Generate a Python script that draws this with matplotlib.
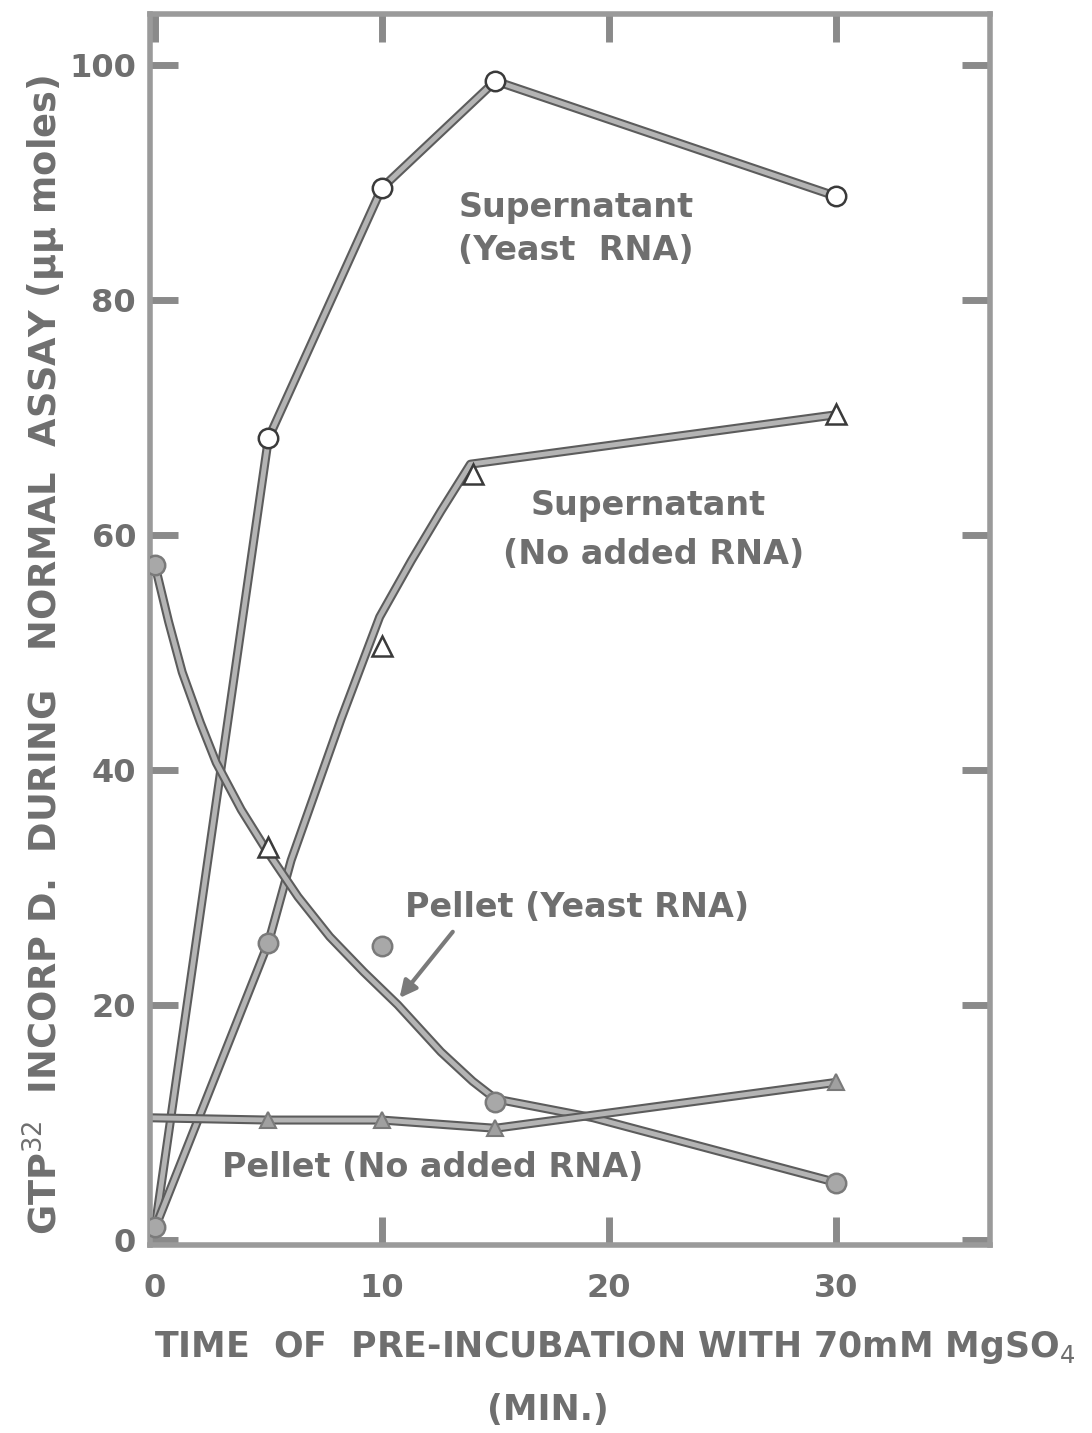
import matplotlib
matplotlib.use("Agg")
import matplotlib.pyplot as plt
import matplotlib.patheffects as pe

# ---------------- data ----------------
# Supernatant (Yeast RNA) - open circles
sup_yeast_t = [0, 5, 10, 15, 30]
sup_yeast_v = [1.0, 68.2, 89.5, 98.6, 88.8]

# Supernatant (No added RNA) - drawn curve and open triangles
sup_norna_curve_t = [0, 5, 6, 8.2, 9.9, 11.3, 12.6, 13.9, 30]
sup_norna_curve_v = [1.0, 25.3, 32.3, 44.3, 53.0, 57.8, 62.0, 66.0, 70.2]
sup_norna_tri_t = [5, 10, 14, 30]
sup_norna_tri_v = [33.4, 50.5, 65.2, 70.3]

# Pellet (Yeast RNA) - drawn decay curve and grey filled circles
pel_yeast_curve_t = [0, 0.6, 1.2, 2.0, 2.7, 3.8, 4.9, 6.3, 7.7, 9.2, 10.7,
                     12.6, 14.0, 15.0, 19.3, 30]
pel_yeast_curve_v = [57.4, 52.6, 48.3, 44.0, 40.6, 36.6, 33.2, 29.2, 25.8,
                     22.8, 20.0, 16.0, 13.5, 12.0, 10.4, 4.9]
pel_yeast_pts_t = [0, 0, 5, 10, 15, 30]
pel_yeast_pts_v = [57.4, 1.1, 25.3, 25.0, 11.7, 4.85]

# Pellet (No added RNA) - grey filled triangles
pel_norna_t = [-0.4, 5, 10, 15, 30]
pel_norna_v = [10.4, 10.2, 10.2, 9.5, 13.4]
pel_norna_tri_t = [5, 10, 15, 30]
pel_norna_tri_v = [10.2, 10.2, 9.5, 13.4]

x_ticks = [0, 10, 20, 30]
y_ticks = [0, 20, 40, 60, 80, 100]

# ---------------- style ----------------
INK = "#6f6f6f"
LINE_EDGE = "#5c5c5c"
LINE_FILL = "#b4b4b4"
line_fx = [pe.Stroke(linewidth=6.5, foreground=LINE_EDGE), pe.Normal()]

fig = plt.figure(figsize=(10.92, 14.33), dpi=100)
ax = fig.add_axes([150/1092, 1 - 1245/1433, (990-150)/1092, (1245-14)/1433])
ax.set_xlim(-0.22, 36.8)
ax.set_ylim(-0.43, 104.3)

def curve(t, v):
    ax.plot(t, v, color=LINE_FILL, lw=3.5, solid_capstyle="round",
            solid_joinstyle="round", path_effects=line_fx, zorder=2)

curve(sup_yeast_t, sup_yeast_v)
curve(sup_norna_curve_t, sup_norna_curve_v)
curve(pel_yeast_curve_t, pel_yeast_curve_v)
curve(pel_norna_t, pel_norna_v)

ax.plot(sup_yeast_t[1:], sup_yeast_v[1:], ls="none", marker="o", ms=14,
        mfc="white", mec="#3a3a3a", mew=1.8, zorder=4)
ax.plot(sup_norna_tri_t, sup_norna_tri_v, ls="none", marker="^", ms=14,
        mfc="white", mec="#3a3a3a", mew=1.8, zorder=4)
ax.plot(pel_yeast_pts_t, pel_yeast_pts_v, ls="none", marker="o", ms=14,
        mfc="#a8a8a8", mec="#7a7a7a", mew=1.8, zorder=4)
ax.plot(pel_norna_tri_t, pel_norna_tri_v, ls="none", marker="^", ms=11,
        mfc="#a0a0a0", mec="#7a7a7a", mew=1.5, zorder=4)

# spines and ticks
for s in ax.spines.values():
    s.set_color("#9a9a9a")
    s.set_linewidth(4)
ax.set_xticks(x_ticks)
ax.set_yticks(y_ticks)
ax.set_xticklabels([str(v) for v in x_ticks])
ax.set_yticklabels([str(v) for v in y_ticks])
ax.tick_params(axis="both", direction="in", length=20, width=5, color="#8a8a8a",
               labelsize=23, labelcolor=INK, top=True, right=True)
ax.tick_params(axis="x", pad=20)
ax.tick_params(axis="y", pad=10)
for lab in ax.get_xticklabels() + ax.get_yticklabels():
    lab.set_fontweight("bold")
    lab.set_family("DejaVu Sans")

# annotations
tk = dict(color=INK, fontsize=24, fontweight="bold", ha="left", va="center",
          family="DejaVu Sans")
ax.text(13.37, 87.8, "Supernatant", **tk)
ax.text(13.37, 84.2, "(Yeast  RNA)", **tk)
ax.text(16.54, 62.5, "Supernatant", **tk)
ax.text(15.35, 58.3, "(No added RNA)", **tk)
ax.text(11.03, 28.3, "Pellet (Yeast RNA)", **tk)
ax.text(2.96, 6.2, "Pellet (No added RNA)", **tk)
ax.annotate("", xy=(10.7, 20.4), xytext=(13.2, 26.4),
            arrowprops=dict(arrowstyle="-|>", color="#7a7a7a", lw=3,
                            mutation_scale=25), zorder=3)

# axis titles
fig.text(44/1092, 1 - 655/1433,
         r"GTP$^{32}$  INCORP D.  DURING   NORMAL  ASSAY (μμ moles)",
         rotation=90, ha="center", va="center", color=INK, fontsize=26.5,
         fontweight="bold", family="DejaVu Sans")
fig.text(615/1092, 1 - 1347/1433,
         r"TIME  OF  PRE-INCUBATION WITH 70mM MgSO$_4$",
         ha="center", va="center", color=INK, fontsize=25,
         fontweight="bold", family="DejaVu Sans")
fig.text(548/1092, 1 - 1410/1433, "(MIN.)", ha="center", va="center",
         color=INK, fontsize=25, fontweight="bold", family="DejaVu Sans")

fig.savefig("out.png", dpi=100, facecolor="white")
